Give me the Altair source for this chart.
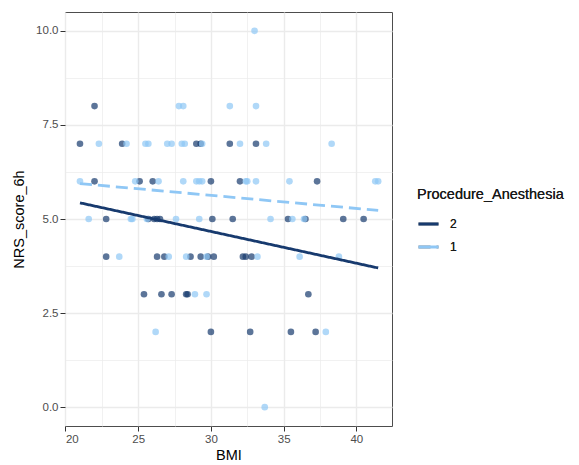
import altair as alt
import pandas as pd

# Patients with Procedure_Anesthesia == 2: BMI and pain score at 6h
bmi_2 = [22.0,
         21.0, 23.9, 29.0, 29.3, 31.3, 33.1,
         22.0, 25.1, 26.0, 30.0, 32.0, 37.3,
         22.8, 25.7, 26.1, 26.3, 26.5, 30.1, 31.5, 35.3, 36.5, 39.1, 40.5,
         22.8, 26.3, 26.8, 28.6, 29.3, 29.8, 30.2, 32.2, 32.4, 32.8,
         25.4, 26.6, 27.3, 28.3, 28.4, 36.7,
         30.0, 32.7, 35.5, 37.2]
nrs_2 = [8,
         7, 7, 7, 7, 7, 7,
         6, 6, 6, 6, 6, 6,
         5, 5, 5, 5, 5, 5, 5, 5, 5, 5, 5,
         4, 4, 4, 4, 4, 4, 4, 4, 4, 4,
         3, 3, 3, 3, 3, 3,
         2, 2, 2, 2]

# Patients with Procedure_Anesthesia == 1
bmi_1 = [33.0,
         27.8, 28.1, 31.3, 33.1,
         22.3, 24.2, 25.5, 25.7, 27.0, 27.3, 28.0, 28.2, 29.4, 32.0, 33.8, 38.3,
         21.0, 24.8, 26.4, 28.1, 29.0, 29.2, 29.4, 32.4, 32.5, 33.1, 35.4, 41.3, 41.5,
         21.6, 24.5, 24.6, 25.6, 27.6, 29.2, 34.1, 35.6, 36.4,
         23.7, 27.1, 28.3, 29.7, 33.2, 36.1, 38.8,
         28.9, 29.7,
         26.2, 37.9,
         33.7]
nrs_1 = [10,
         8, 8, 8, 8,
         7, 7, 7, 7, 7, 7, 7, 7, 7, 7, 7, 7,
         6, 6, 6, 6, 6, 6, 6, 6, 6, 6, 6, 6, 6,
         5, 5, 5, 5, 5, 5, 5, 5, 5,
         4, 4, 4, 4, 4, 4, 4,
         3, 3,
         2, 2,
         0]

groups = ["2", "1"]
palette = ["#173a6e", "#8fc7f5"]
dashes = [[1, 0], [12, 6]]

x_ticks = [20, 22.5, 25, 27.5, 30, 32.5, 35, 37.5, 40]
y_ticks = [0, 1.25, 2.5, 3.75, 5, 6.25, 7.5, 8.75, 10]

df = pd.DataFrame({
    "BMI": bmi_2 + bmi_1,
    "NRS_score_6h": nrs_2 + nrs_1,
    "Procedure_Anesthesia": ["2"] * len(bmi_2) + ["1"] * len(bmi_1),
})

FONT = "Liberation Sans"

x_enc = alt.X(
    "BMI:Q",
    scale=alt.Scale(domain=[19.97, 42.45], nice=False, zero=False),
    axis=alt.Axis(
        values=x_ticks,
        labelExpr="datum.value % 5 === 0 ? datum.label : ''",
        tickOpacity={"condition": {"test": "datum.value % 5 === 0", "value": 1}, "value": 0},
        gridWidth={"condition": {"test": "datum.value % 5 === 0", "value": 1.4}, "value": 0.7},
        title="BMI",
    ),
)
y_enc = alt.Y(
    "NRS_score_6h:Q",
    scale=alt.Scale(domain=[-0.5, 10.5], nice=False, zero=False),
    axis=alt.Axis(
        values=y_ticks,
        labelExpr="datum.value % 2.5 === 0 ? format(datum.value, '.1f') : ''",
        tickOpacity={"condition": {"test": "datum.value % 2.5 === 0", "value": 1}, "value": 0},
        gridWidth={"condition": {"test": "datum.value % 2.5 === 0", "value": 1.4}, "value": 0.7},
        title="NRS_score_6h",
    ),
)

points = alt.Chart(df).mark_circle(size=44, opacity=0.7).encode(
    x=x_enc,
    y=y_enc,
    color=alt.Color("Procedure_Anesthesia:N",
                    scale=alt.Scale(domain=groups, range=palette),
                    legend=None),
)

fits = alt.Chart(df).transform_regression(
    "BMI", "NRS_score_6h", groupby=["Procedure_Anesthesia"], extent=[21.0, 41.5]
).mark_line(strokeWidth=2.8).encode(
    x="BMI:Q",
    y="NRS_score_6h:Q",
    color=alt.Color("Procedure_Anesthesia:N",
                    scale=alt.Scale(domain=groups, range=palette),
                    title="Procedure_Anesthesia"),
    strokeDash=alt.StrokeDash("Procedure_Anesthesia:N",
                              scale=alt.Scale(domain=groups, range=dashes),
                              title="Procedure_Anesthesia"),
)

chart = alt.layer(points, fits).resolve_scale(color="independent").properties(
    width=327,
    height=414,
    autosize=alt.AutoSizeParams(type="none"),
    padding={"left": 65, "top": 12, "right": 187, "bottom": 39},
    background="white",
).configure_view(
    stroke="#4d4d4d", strokeWidth=1
).configure_axis(
    domain=False,
    gridColor="#ebebeb",
    tickColor="#333333",
    tickSize=5,
    labelFont=FONT,
    labelFontSize=11.5,
    labelColor="#4d4d4d",
    labelPadding=2,
    titleFont=FONT,
    titleFontSize=14.5,
    titleFontWeight="normal",
    titleColor="#000000",
).configure_axisX(
    titlePadding=4,
).configure_axisY(
    titlePadding=9,
).configure_legend(
    orient="none",
    legendX=352,
    legendY=176,
    titleFont=FONT,
    titleFontSize=14.5,
    titleFontWeight="normal",
    titleColor="#1a1a1a",
    titlePadding=10,
    labelFont=FONT,
    labelFontSize=12,
    labelFontWeight="normal",
    labelColor="#1a1a1a",
    symbolType="stroke",
    symbolSize=400,
    symbolStrokeWidth=3,
    rowPadding=5,
    labelOffset=10,
)

chart.save("out.html", embed_options={"renderer": "svg", "actions": False})
